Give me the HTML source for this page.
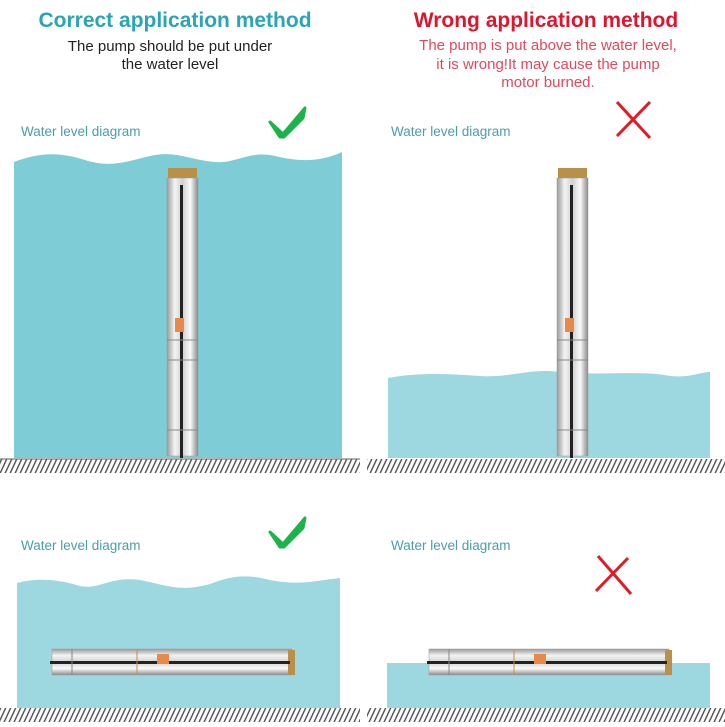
<!DOCTYPE html>
<html><head><style>
body{margin:0;width:725px;height:722px;background:#fff;overflow:hidden;font-family:"Liberation Sans",sans-serif}
</style></head><body>
<svg width="725" height="722" xmlns="http://www.w3.org/2000/svg">
<defs>
<pattern id="h" width="5" height="14" patternUnits="userSpaceOnUse" patternTransform="skewX(-25)">
<rect x="0" y="0" width="1.6" height="14" fill="#555"/></pattern>
<linearGradient id="sv" x1="0" x2="1" y1="0" y2="0">
<stop offset="0" stop-color="#9a9a9a"/><stop offset="0.25" stop-color="#f4f4f4"/><stop offset="0.5" stop-color="#d0d0d0"/><stop offset="0.75" stop-color="#fafafa"/><stop offset="1" stop-color="#8a8a8a"/></linearGradient>
<linearGradient id="sh" x1="0" x2="0" y1="0" y2="1">
<stop offset="0" stop-color="#9a9a9a"/><stop offset="0.25" stop-color="#f4f4f4"/><stop offset="0.5" stop-color="#d0d0d0"/><stop offset="0.75" stop-color="#fafafa"/><stop offset="1" stop-color="#8a8a8a"/></linearGradient>
</defs>
<!-- titles -->
<text x="175" y="27" text-anchor="middle" font-size="21" font-weight="bold" fill="#2aa5b5">Correct application method</text>
<text x="170" y="51" text-anchor="middle" font-size="15" fill="#222">The pump should be put under</text>
<text x="170" y="69" text-anchor="middle" font-size="15" fill="#222">the water level</text>
<text x="546" y="27" text-anchor="middle" font-size="21" font-weight="bold" fill="#e0142d">Wrong application method</text>
<text x="548" y="50" text-anchor="middle" font-size="15" fill="#e8465a">The pump is put above the water level,</text>
<text x="548" y="69" text-anchor="middle" font-size="15" fill="#e8465a">it is wrong!It may cause the pump</text>
<text x="548" y="87" text-anchor="middle" font-size="15" fill="#e8465a">motor burned.</text>
<g font-size="13.5" fill="#4a9ea8">
<text x="21" y="136">Water level diagram</text>
<text x="391" y="136">Water level diagram</text>
<text x="21" y="550">Water level diagram</text>
<text x="391" y="550">Water level diagram</text>
</g>
<!-- checks / crosses -->
<path d="M270 122 L283 134 L305 108 L303 118 L284 137 L280 137 Z" fill="#1bb34a" stroke="#1bb34a" stroke-width="3" stroke-linejoin="round"/>
<path d="M270 532 L283 544 L305 518 L303 528 L284 547 L280 547 Z" fill="#1bb34a" stroke="#1bb34a" stroke-width="3" stroke-linejoin="round"/>
<path d="M617 102 L650 138 M650 102 L617 136" stroke="#e21b24" stroke-width="3"/>
<path d="M598 556 L631 594 M628 558 L596 591" stroke="#e21b24" stroke-width="3"/>
<!-- water -->
<path d="M14 162 C40 152 60 152 85 160 C110 168 125 162 150 156 C175 150 190 160 215 162 C235 164 250 150 275 156 C300 162 320 162 342 152 L342 458 L14 458 Z" fill="#7ecdd6"/>
<path d="M388 378 C420 372 450 374 480 376 C510 378 530 368 560 372 C600 376 640 370 670 376 C690 378 700 372 710 372 L710 458 L388 458 Z" fill="#9dd8e0"/>
<path d="M17 583 C40 577 60 580 80 586 C100 590 110 576 140 580 C170 586 180 592 210 584 C235 574 250 575 270 580 C300 586 320 580 340 578 L340 708 L17 708 Z" fill="#9dd8e0"/>
<path d="M387 663 L710 663 L710 708 L387 708 Z" fill="#9dd8e0"/>
<!-- ground -->
<rect x="0" y="459" width="360" height="14" fill="url(#h)"/>
<rect x="367" y="459" width="358" height="14" fill="url(#h)"/>
<line x1="0" y1="459" x2="360" y2="459" stroke="#666"/>
<rect x="0" y="708" width="360" height="14" fill="url(#h)"/>
<rect x="367" y="708" width="358" height="14" fill="url(#h)"/>
<!-- vertical pumps -->
<g>
<rect x="168" y="168" width="29" height="10" fill="#b8904a"/>
<rect x="167" y="178" width="31" height="278" fill="url(#sv)" stroke="#999" stroke-width="0.5"/>
<rect x="180" y="185" width="3" height="273" fill="#222"/>
<rect x="175" y="318" width="9" height="14" fill="#e58a4a"/>
<line x1="167" y1="340" x2="198" y2="340" stroke="#888"/>
<line x1="167" y1="360" x2="198" y2="360" stroke="#888"/>
<line x1="167" y1="430" x2="198" y2="430" stroke="#888"/>
</g>
<g transform="translate(390 0)">
<rect x="168" y="168" width="29" height="10" fill="#b8904a"/>
<rect x="167" y="178" width="31" height="278" fill="url(#sv)" stroke="#999" stroke-width="0.5"/>
<rect x="180" y="185" width="3" height="273" fill="#222"/>
<rect x="175" y="318" width="9" height="14" fill="#e58a4a"/>
<line x1="167" y1="340" x2="198" y2="340" stroke="#888"/>
<line x1="167" y1="360" x2="198" y2="360" stroke="#888"/>
<line x1="167" y1="430" x2="198" y2="430" stroke="#888"/>
</g>
<!-- horizontal pumps -->
<g>
<rect x="52" y="649" width="240" height="26" fill="url(#sh)" stroke="#999" stroke-width="0.5"/>
<rect x="288" y="650" width="7" height="25" fill="#b8904a"/>
<rect x="50" y="661" width="240" height="3" fill="#222"/>
<rect x="157" y="654" width="12" height="10" fill="#e58a4a"/>
<line x1="72" y1="649" x2="72" y2="675" stroke="#888"/>
<line x1="137" y1="649" x2="137" y2="675" stroke="#c09040"/>
</g>
<g transform="translate(377 0)">
<rect x="52" y="649" width="240" height="26" fill="url(#sh)" stroke="#999" stroke-width="0.5"/>
<rect x="288" y="650" width="7" height="25" fill="#b8904a"/>
<rect x="50" y="661" width="240" height="3" fill="#222"/>
<rect x="157" y="654" width="12" height="10" fill="#e58a4a"/>
<line x1="72" y1="649" x2="72" y2="675" stroke="#888"/>
<line x1="137" y1="649" x2="137" y2="675" stroke="#c09040"/>
</g>
</svg>
</body></html>
